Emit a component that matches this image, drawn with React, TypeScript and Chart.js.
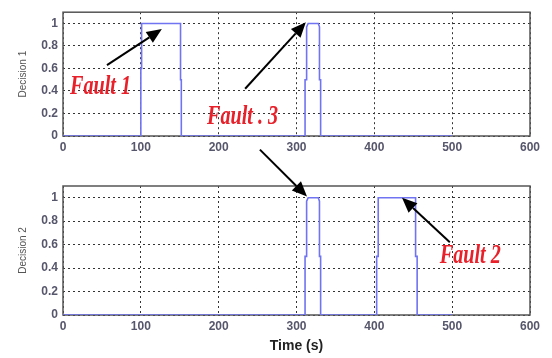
import React, { useEffect, useRef } from "react";
import { Chart, registerables } from "chart.js";

Chart.register(...registerables);

// ---- data ----
const timeTicks = [0, 100, 200, 300, 400, 500, 600];
const decisionTicks = [0, 0.2, 0.4, 0.6, 0.8, 1];
const decisionTickLabels = ["0", "0.2", "0.4", "0.6", "0.8", "1"];

const decision1Time = [0, 100, 100, 101, 101, 151, 151, 152, 152, 311, 311, 313, 313, 315, 328, 329.5, 329.5, 331, 331, 500];
const decision1Value = [0, 0, 0.6, 0.6, 1, 1, 0.5, 0.5, 0, 0, 0.5, 0.5, 0.97, 1, 1, 0.97, 0.5, 0.5, 0, 0];

const decision2Time = [0, 311, 311, 313, 313, 315, 328, 329.5, 329.5, 331, 331, 403, 403, 405, 405, 453, 453, 455, 455, 500];
const decision2Value = [0, 0, 0.5, 0.5, 0.97, 1, 1, 0.97, 0.5, 0.5, 0, 0, 0.5, 0.5, 1, 1, 0.5, 0.5, 0, 0];

const faultLabels = ["Fault 1", "Fault . 3", "Fault 2"];

// annotation anchors (data coordinates of the chart that draws them)
const topTexts = [
  { label: faultLabels[0], x: 9, y: 0.37 },
  { label: faultLabels[1], x: 185, y: 0.11 },
];
const topArrows = [
  { from: [56.5, 0.63], to: [127, 0.95] },
  { from: [234, 0.42], to: [312, 1.01] },
];
const bottomTexts = [{ label: faultLabels[2], x: 484, y: 0.44 }];
const bottomArrows = [
  { from: [253, 1.41], to: [313.5, 1.01] },
  { from: [497, 0.62], to: [435.6, 1.0] },
];

const W = 552;
const H = 358;

function drawArrow(ctx: CanvasRenderingContext2D, x1: number, y1: number, x2: number, y2: number) {
  const ang = Math.atan2(y2 - y1, x2 - x1);
  const len = 15;
  const hw = 6.5;
  const bx = x2 - len * Math.cos(ang);
  const by = y2 - len * Math.sin(ang);
  ctx.save();
  ctx.strokeStyle = "#000";
  ctx.fillStyle = "#000";
  ctx.lineWidth = 2;
  ctx.beginPath();
  ctx.moveTo(x1, y1);
  ctx.lineTo(bx, by);
  ctx.stroke();
  ctx.beginPath();
  ctx.moveTo(x2, y2);
  ctx.lineTo(bx + hw * Math.sin(ang), by - hw * Math.cos(ang));
  ctx.lineTo(bx - hw * Math.sin(ang), by + hw * Math.cos(ang));
  ctx.closePath();
  ctx.fill();
  ctx.restore();
}

function drawFaultText(ctx: CanvasRenderingContext2D, label: string, x: number, y: number) {
  ctx.save();
  ctx.translate(x, y);
  ctx.scale(0.72, 1);
  ctx.font = 'italic bold 28px "Liberation Serif", "Times New Roman", serif';
  ctx.fillStyle = "#e8202a";
  ctx.textBaseline = "alphabetic";
  ctx.textAlign = "left";
  ctx.fillText(label, 0, 0);
  ctx.restore();
}

const boxPlugin = {
  id: "boxPlugin",
  beforeDatasetsDraw(chart: any) {
    const { ctx, chartArea } = chart;
    ctx.save();
    ctx.strokeStyle = "#555";
    ctx.lineWidth = 1.5;
    ctx.strokeRect(chartArea.left, chartArea.top, chartArea.right - chartArea.left, chartArea.bottom - chartArea.top);
    ctx.restore();
  },
};

function makeAnnotPlugin(texts: any[], arrows: any[]) {
  return {
    id: "annot",
    afterDraw(chart: any) {
      const { ctx } = chart;
      const xs = chart.scales.x;
      const ys = chart.scales.y;
      arrows.forEach((a) => {
        drawArrow(
          ctx,
          xs.getPixelForValue(a.from[0]),
          ys.getPixelForValue(a.from[1]),
          xs.getPixelForValue(a.to[0]),
          ys.getPixelForValue(a.to[1])
        );
      });
      texts.forEach((t) => drawFaultText(ctx, t.label, xs.getPixelForValue(t.x), ys.getPixelForValue(t.y)));
    },
  };
}

const tickFont = { family: '"Liberation Sans", Arial, sans-serif', size: 12, weight: "bold" as const };
const tickColor = "#56566c";

function makeConfig(
  times: number[],
  values: number[],
  yTitle: string,
  padTop: number,
  padBottom: number,
  xAxisHeight: number,
  showXTitle: boolean,
  texts: any[],
  arrows: any[]
): any {
  return {
    type: "line",
    data: {
      datasets: [
        {
          data: times.map((t, i) => ({ x: t, y: values[i] })),
          borderColor: "#7073f2",
          borderWidth: 1.6,
          pointRadius: 0,
          fill: false,
          tension: 0,
        },
      ],
    },
    options: {
      animation: false,
      responsive: false,
      maintainAspectRatio: false,
      events: [],
      layout: { padding: { left: 8, right: 22, top: padTop, bottom: padBottom } },
      plugins: { legend: { display: false }, tooltip: { enabled: false } },
      scales: {
        x: {
          type: "linear",
          min: 0,
          max: 600,
          afterBuildTicks: (axis: any) => {
            axis.ticks = timeTicks.map((v) => ({ value: v }));
          },
          afterFit: (axis: any) => {
            axis.height = xAxisHeight;
          },
          grid: { color: "#333", lineWidth: 1, drawTicks: false },
          border: { display: false, dash: [2, 3] },
          ticks: { font: tickFont, color: tickColor, padding: 4, maxRotation: 0, autoSkip: false },
          title: {
            display: showXTitle,
            text: "Time (s)",
            color: "#222",
            font: { family: '"Liberation Sans", Arial, sans-serif', size: 14, weight: "bold" },
            padding: { top: 6, bottom: 0 },
          },
        },
        y: {
          type: "linear",
          min: 0,
          max: 1.1,
          afterBuildTicks: (axis: any) => {
            axis.ticks = decisionTicks.map((v) => ({ value: v }));
          },
          afterFit: (axis: any) => {
            axis.width = 55;
          },
          grid: { color: "#333", lineWidth: 1, drawTicks: false },
          border: { display: false, dash: [2, 3] },
          ticks: {
            font: tickFont,
            color: tickColor,
            padding: 5,
            callback: (_v: any, i: number) => decisionTickLabels[i],
          },
          title: {
            display: true,
            text: yTitle,
            color: "#555",
            font: { family: '"Liberation Sans", Arial, sans-serif', size: 10 },
            padding: { top: 9, bottom: 0 },
          },
        },
      },
    },
    plugins: [boxPlugin, makeAnnotPlugin(texts, arrows)],
  };
}

export default function App() {
  const topRef = useRef<HTMLCanvasElement>(null);
  const bottomRef = useRef<HTMLCanvasElement>(null);

  useEffect(() => {
    const top = new Chart(
      topRef.current!,
      makeConfig(decision1Time, decision1Value, "Decision 1", 7, H - 136 - 24, 24, false, topTexts, topArrows)
    );
    const bottom = new Chart(
      bottomRef.current!,
      makeConfig(decision2Time, decision2Value, "Decision 2", 186, H - 315 - 40, 40, true, bottomTexts, bottomArrows)
    );
    return () => {
      top.destroy();
      bottom.destroy();
    };
  }, []);

  const canvasStyle: React.CSSProperties = { position: "absolute", left: 0, top: 0, width: W, height: H };
  return (
    <div style={{ position: "fixed", left: 0, top: 0, width: W, height: H, background: "#fff" }}>
      <canvas ref={topRef} width={W} height={H} style={canvasStyle} />
      <canvas ref={bottomRef} width={W} height={H} style={canvasStyle} />
    </div>
  );
}
